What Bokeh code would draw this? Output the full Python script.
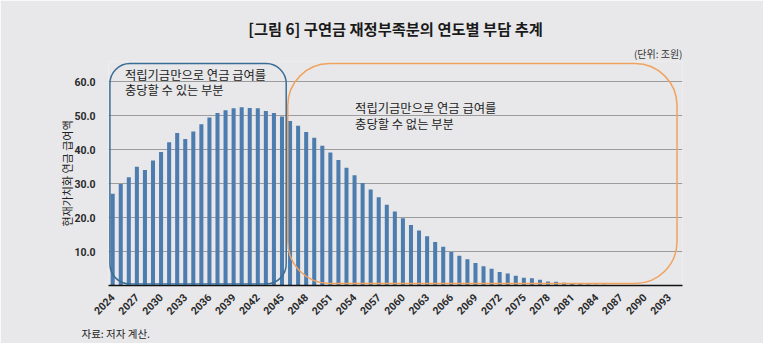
from bokeh.plotting import figure
from bokeh.models import BoxAnnotation, Label, FixedTicker, NumeralTickFormatter, ColumnDataSource, Title
from bokeh.embed import file_html
from bokeh.resources import INLINE
import math

# ---- data ----
years = list(range(2024, 2094))
values = [27.0, 29.9, 31.9, 35.0, 34.0, 36.8, 39.3, 42.2, 44.9, 43.2,
          45.4, 47.5, 49.5, 50.8, 51.6, 52.2, 52.5, 52.3, 52.2, 51.4,
          50.8, 49.8, 48.5, 47.1, 45.2, 43.5, 41.2, 39.2, 37.0, 34.7,
          32.5, 30.2, 28.3, 26.0, 23.8, 21.8, 19.8, 17.8, 16.2, 14.5,
          12.8, 11.4, 9.9, 8.8, 7.7, 6.6, 5.7, 4.9, 4.0, 3.5,
          2.9, 2.3, 2.1, 1.7, 1.2, 1.1, 0.8, 0.6, 0.4, 0.3,
          0.25, 0.2, 0.15, 0.1, 0.08, 0.06, 0.04, 0.03, 0.02, 0.01]
x_tick_years = list(range(2024, 2094, 3))
y_ticks = [10, 20, 30, 40, 50, 60]

title_text = "[그림 6] 구연금 재정부족분의 연도별 부담 추계"
unit_text = "(단위: 조원)"
y_label = "현재가치화 연금 급여액"
blue_lines = ["적립기금만으로 연금 급여를", "충당할 수 있는 부분"]
orange_lines = ["적립기금만으로 연금 급여를", "충당할 수 없는 부분"]
source_text = "자료: 저자 계산."

# ---- styling ----
BG = "#e8e8ea"
BAR = "#4d7cae"
KR = "Noto Sans CJK KR"

X0, X1 = 2023.48, 2094.68
Y0, Y1 = 0, 66
W, H = 763, 343
ML, MR, MT, MB = 108, 81, 61, 58

p = figure(width=W, height=H, x_range=(X0, X1), y_range=(Y0, Y1),
           output_backend="svg", toolbar_location=None,
           background_fill_color=BG, border_fill_color=BG,
           min_border_left=ML, min_border_right=MR,
           min_border_top=MT, min_border_bottom=MB)
p.outline_line_color = None

# reference-pixel -> data helpers (for annotation placement inside the frame)
SX, SY = W / 779, H / 359
fw = W - ML - MR
fh = H - MT - MB
def r2x(px):
    return X0 + (px * SX - ML) * (X1 - X0) / fw
def r2y(py):
    return Y1 - (py * SY - MT) * (Y1 - Y0) / fh

src = ColumnDataSource(dict(x=years, top=values))
p.vbar(x="x", top="top", width=0.5, source=src, fill_color=BAR, line_color=None)

# axes
p.xaxis.ticker = FixedTicker(ticks=x_tick_years)
p.xaxis.major_label_orientation = math.pi / 4
p.xaxis.major_label_text_font = "Roboto"
p.xaxis.major_label_text_font_style = "bold"
p.xaxis.major_label_text_font_size = "10.5px"
p.xaxis.major_label_text_color = "#2a2a2a"
p.xaxis.major_tick_line_color = None
p.xaxis.minor_tick_line_color = None
p.xaxis.axis_line_color = "#111111"
p.xaxis.axis_line_width = 1.5
p.xaxis.major_label_standoff = 4

p.yaxis.ticker = FixedTicker(ticks=y_ticks)
p.yaxis.formatter = NumeralTickFormatter(format="0.0")
p.yaxis.major_label_text_font = "Roboto"
p.yaxis.major_label_text_font_style = "bold"
p.yaxis.major_label_text_font_size = "10.5px"
p.yaxis.major_label_text_color = "#2a2a2a"
p.yaxis.major_tick_line_color = None
p.yaxis.minor_tick_line_color = None
p.yaxis.axis_line_color = None
p.yaxis.major_label_standoff = 7
p.yaxis.axis_label = y_label
p.yaxis.axis_label_text_font = KR
p.yaxis.axis_label_text_font_style = "normal"
p.yaxis.axis_label_text_font_size = "11px"
p.yaxis.axis_label_text_color = "#222222"
p.yaxis.axis_label_standoff = -4

p.xgrid.grid_line_color = None
p.ygrid.grid_line_color = "#9c9c9c"
p.ygrid.grid_line_width = 1

# rounded boxes
blue_box = BoxAnnotation(left=r2x(111.7), right=r2x(291.7), top=r2y(66), bottom=r2y(296.7),
                         fill_alpha=0, line_color="#3a6d96", line_alpha=1.0,
                         line_width=1.5, border_radius=20)
orange_box = BoxAnnotation(left=r2x(293.3), right=r2x(690.7), top=r2y(66), bottom=r2y(296.2),
                           fill_alpha=0, line_color="#f0a35e", line_alpha=1.0,
                           line_width=1.5, border_radius=42)
p.add_layout(blue_box)
p.add_layout(orange_box)

def lab(text, px, py, size="12.3px"):
    p.add_layout(Label(x=r2x(px), y=r2y(py), text=text, text_font=KR,
                       text_font_size=size, text_align="left", text_baseline="middle",
                       text_color="#222222"))

for i, t in enumerate(blue_lines):
    lab(t, 127, 78 + 16 * i)
for i, t in enumerate(orange_lines):
    lab(t, 362, 112 + 17 * i)

# titles in side panels (nearest to the frame first)
p.add_layout(Title(text=unit_text, align="right", text_font=KR, text_font_size="10px",
                   text_font_style="normal", text_color="#333333", standoff=2), "above")
p.add_layout(Title(text=title_text, align="center", text_font=KR, text_font_size="15.3px",
                   text_font_style="bold", text_color="#1a1a1a", standoff=7), "above")
p.add_layout(Title(text=source_text, align="left", text_font=KR, text_font_size="10.5px",
                   text_font_style="normal", text_color="#222222", standoff=5, offset=-27), "below")

open("out.html", "w").write(file_html(p, INLINE))
